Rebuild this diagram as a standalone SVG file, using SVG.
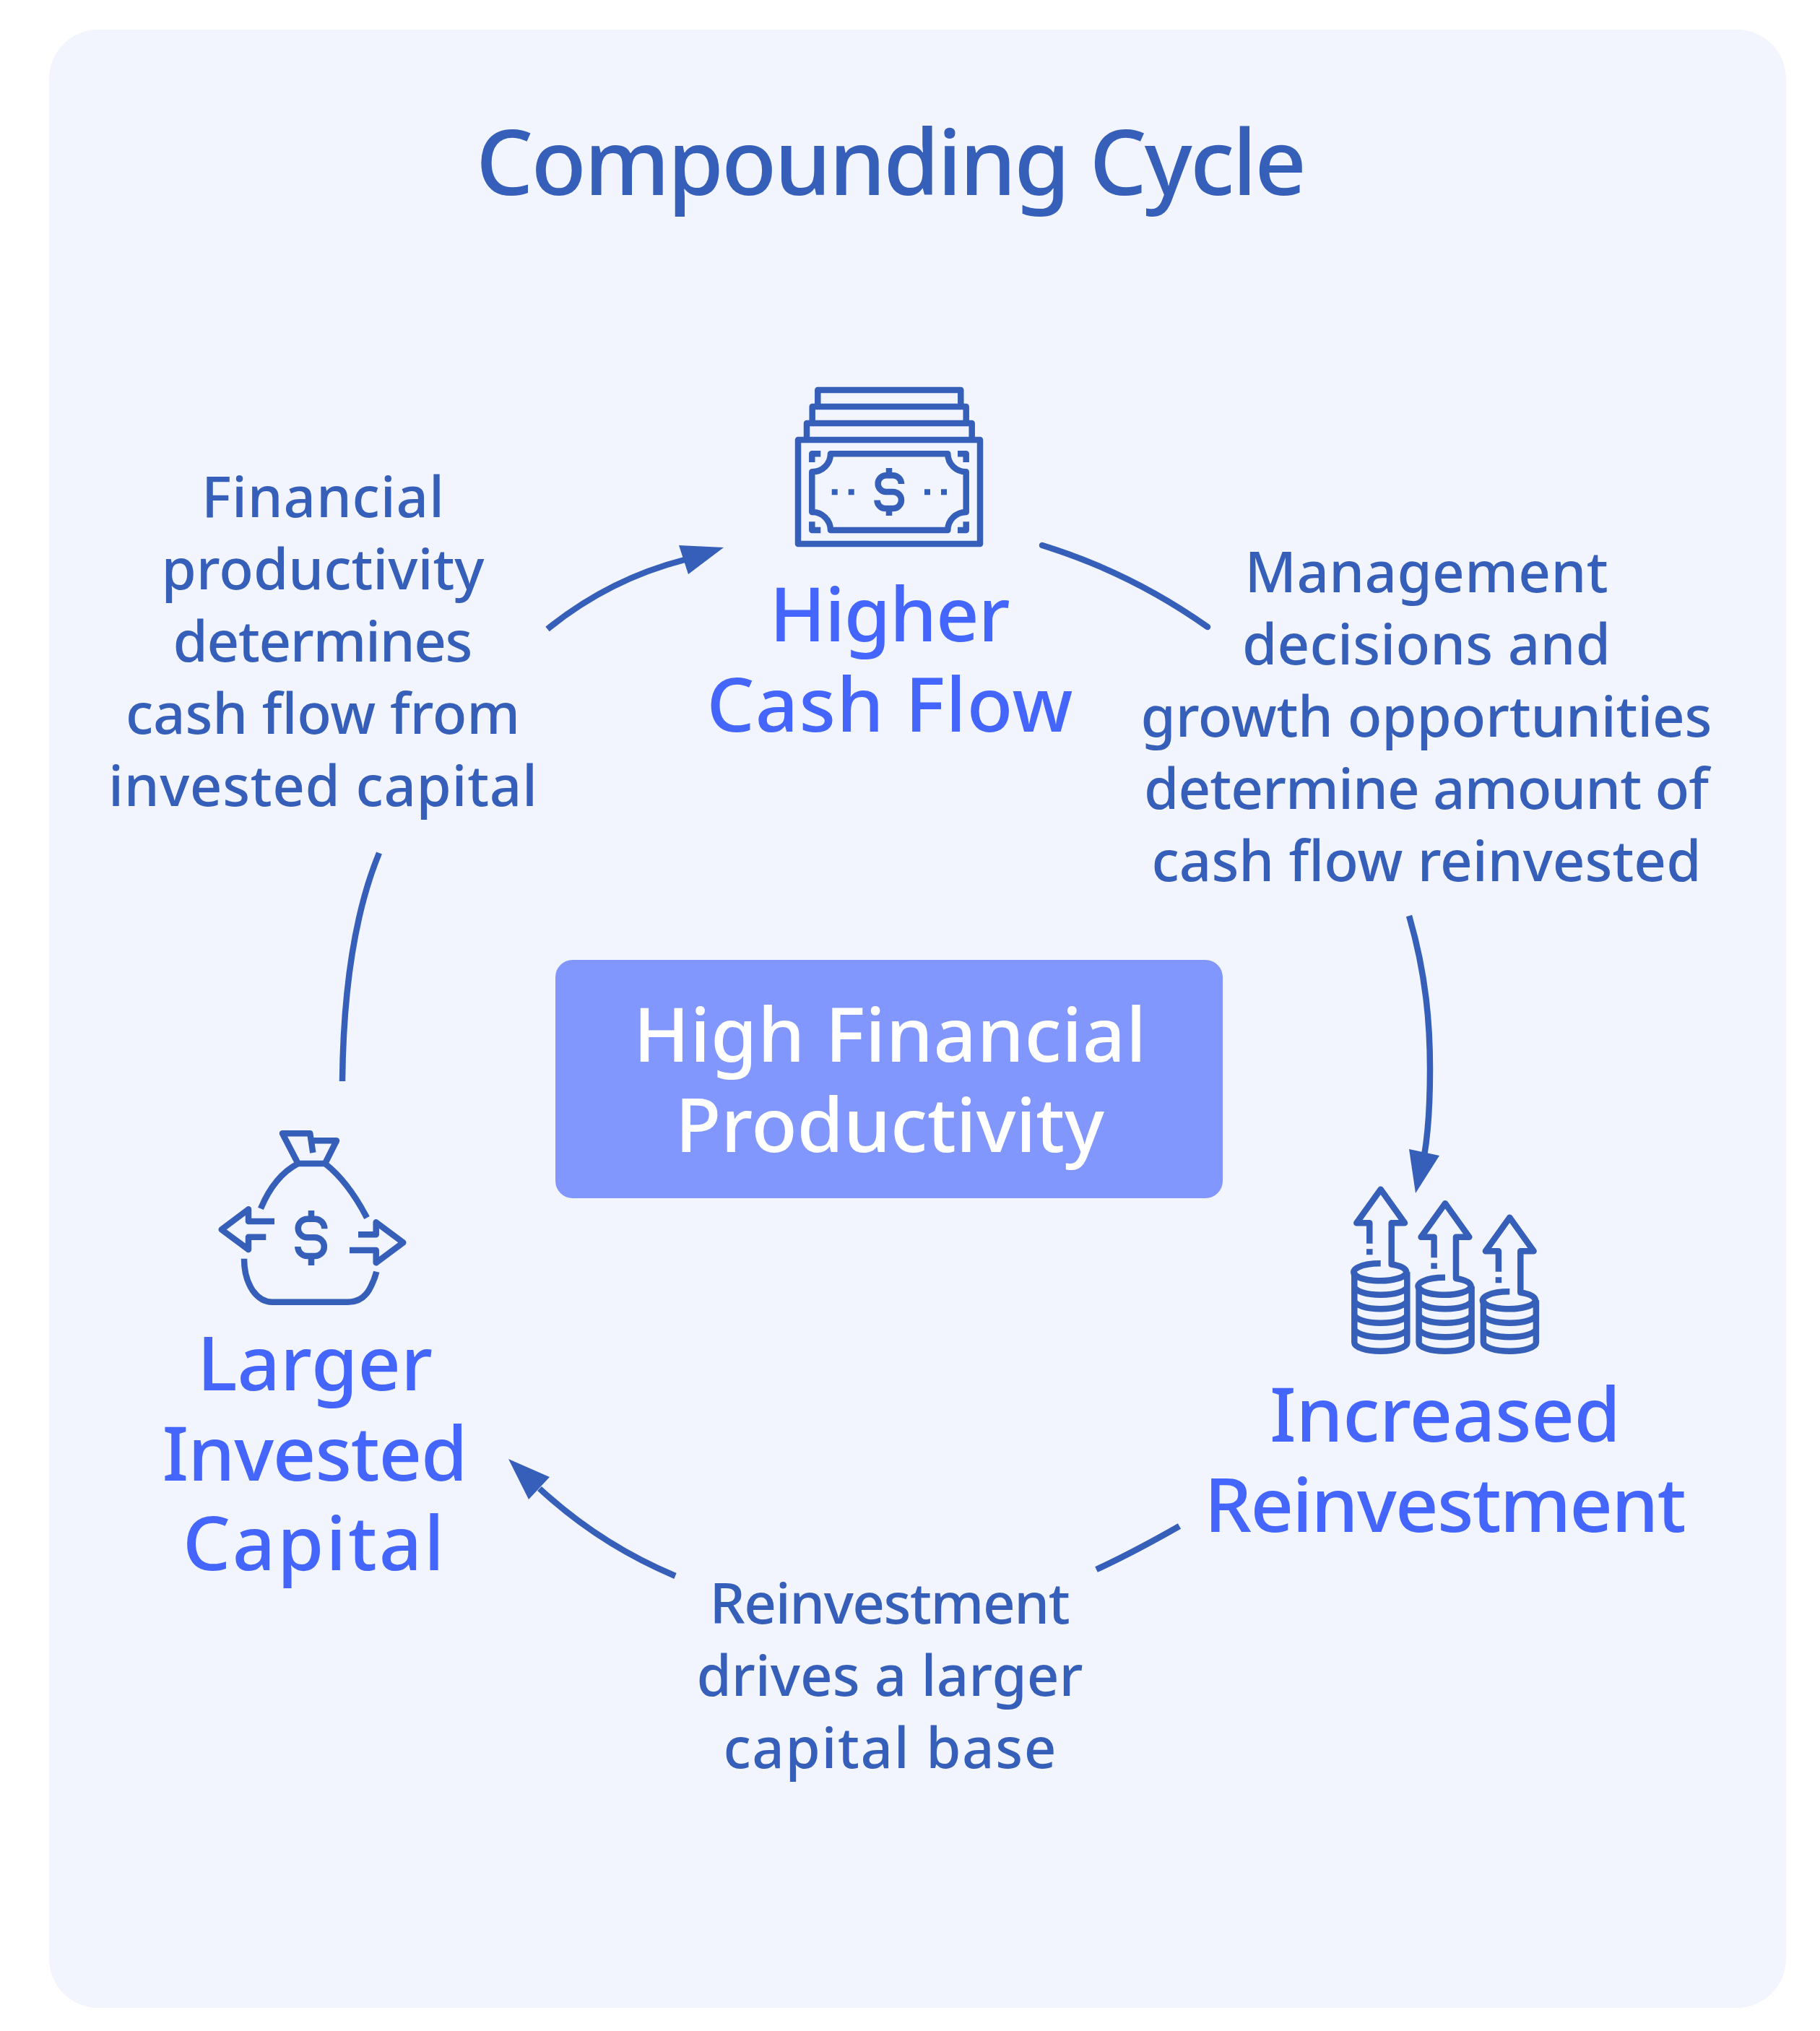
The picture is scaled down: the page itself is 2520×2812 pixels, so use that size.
<svg xmlns="http://www.w3.org/2000/svg" width="2520" height="2812" viewBox="0 0 2520 2812">
<style>
text{font-family:"Noto Sans","Open Sans",sans-serif;text-anchor:middle;font-weight:500;font-variant-ligatures:none}
.t{font-size:125px;fill:#365fba}
.h{font-size:104px;fill:#4466fd}
.d{font-size:78px;fill:#365fba}
.c{font-size:104px;fill:#fff}
.l{fill:none;stroke:#365fba;stroke-width:8.5}
.i{fill:none;stroke:#365fba;stroke-width:8.5;stroke-linejoin:round}
.f{fill:#365fba}
</style>
<rect x="68" y="41" width="2405" height="2739" rx="68" fill="#f2f5fd"/>
<text class="t" x="1234" y="270" textLength="1150">Compounding Cycle</text>
<g id="center"><rect x="769" y="1329" width="924" height="330" rx="24" fill="#8297fd"/><text class="c" x="1232" y="1470" textLength="710">High Financial</text><text class="c" x="1232" y="1594.5" textLength="594">Productivity</text></g>
<g id="cashflow">
<path class="i" d="M1105 609H1357V753H1105ZM1117 609V586H1345.7V609M1124.7 586V563H1337.7V586M1132.3 563V540H1330.3V563"/>
<path class="i" d="M1150 628.3H1312.3A25.3 25 0 0 0 1337.7 653.3V709A25.3 25 0 0 0 1312.3 734H1150A25.3 25 0 0 0 1124.3 709V653.3A25.3 25 0 0 0 1150 628.3Z"/>
<path class="i" d="M1136.3 628.3H1124.3V640M1326 628.3H1337.7V640M1124.3 722.3V734H1136.3M1326 734H1337.7V722.3"/>
<path class="f" d="M1151.7 677.3h8v8h-8zM1174.7 677.3h8v8h-8zM1280 677.3h8v8h-8zM1303 677.3h8v8h-8z"/>
<path class="i" d="M1248 670A11.5 11.5 0 0 0 1236.5 658.3H1226A11.4 11.4 0 0 0 1226 681H1236.5A11.5 11.5 0 0 1 1236.5 704H1226A11.5 11.5 0 0 1 1214.5 692.5M1231 648V658M1231 704V714"/>
<text class="h" x="1232" y="888" textLength="333">Higher</text><text class="h" x="1232" y="1012.5" textLength="507">Cash Flow</text>
</g>
<g id="reinvestment">
<path class="i" d="M1896.3 1721.7V1693.3H1878.3L1911.7 1646.7L1945 1693.3H1926.7V1750.5A36.5 12 0 1 1 1911.7 1749.3M1896.3 1729.3V1737.3"/>
<path class="i" d="M1875.3 1761.3V1858.8A36.5 12 0 0 0 1948.3 1858.8V1761.3M1875.3 1780.8A36.5 12 0 0 0 1948.3 1780.8M1875.3 1800.3A36.5 12 0 0 0 1948.3 1800.3M1875.3 1819.8A36.5 12 0 0 0 1948.3 1819.8M1875.3 1839.3A36.5 12 0 0 0 1948.3 1839.3"/>
<path class="i" d="M1985.6 1741.2V1712.8H1967.6L2001 1666.2L2034.3 1712.8H2016V1770A36.5 12 0 1 1 2001 1768.8M1985.6 1748.8V1756.8"/>
<path class="i" d="M1964.6 1780.8V1858.8A36.5 12 0 0 0 2037.6 1858.8V1780.8M1964.6 1800.3A36.5 12 0 0 0 2037.6 1800.3M1964.6 1819.8A36.5 12 0 0 0 2037.6 1819.8M1964.6 1839.3A36.5 12 0 0 0 2037.6 1839.3"/>
<path class="i" d="M2074.9 1760.7V1732.3H2056.9L2090.3 1685.7L2123.6 1732.3H2105.3V1789.5A36.5 12 0 1 1 2090.3 1788.3M2074.9 1768.3V1776.3"/>
<path class="i" d="M2053.9 1800.3V1858.8A36.5 12 0 0 0 2126.9 1858.8V1800.3M2053.9 1819.8A36.5 12 0 0 0 2126.9 1819.8M2053.9 1839.3A36.5 12 0 0 0 2126.9 1839.3"/>
<text class="h" x="2001" y="1996" textLength="486">Increased</text><text class="h" x="2001" y="2120.5" textLength="667">Reinvestment</text>
</g>
<g id="capital">
<path class="i" d="M433.3 1596L429.3 1569.3H391L412.7 1611H450L466 1579.3H432"/>
<path class="i" d="M412.7 1611Q380 1628 361 1673.3M450 1611Q482 1636 508 1686"/>
<path class="i" d="M380 1691H344V1674.3L306.7 1702.3L344 1730V1712.7H368.3M496 1709.3H520.7V1692.3L558.3 1720.3L520.7 1748.3V1731H484"/>
<path class="i" d="M338 1742.7C338 1760 342 1775 350 1787C358 1798 368 1802.7 376.7 1802.7H481.7C495 1802.7 505 1796 511 1786C516 1777 519 1770 521.3 1760.7"/>
<path class="i" d="M449.3 1701.3A13 13.6 0 0 0 436 1687.7H425.5A12.8 12.8 0 0 0 425.5 1713.3H436A12.8 12.8 0 0 1 436 1739H425.5A13 13 0 0 1 412.3 1726M431 1676V1688M431 1739V1752"/>
<text class="h" x="436" y="1925" textLength="326">Larger</text><text class="h" x="436" y="2049.5" textLength="423">Invested</text><text class="h" x="434" y="2174" textLength="362">Capital</text>
</g>
<g id="label-left">
<text class="d" x="447" y="716" textLength="336">Financial</text><text class="d" x="447" y="816" textLength="447">productivity</text><text class="d" x="447" y="916" textLength="415">determines</text><text class="d" x="447" y="1016" textLength="546">cash flow from</text><text class="d" x="447" y="1116" textLength="594">invested capital</text>
</g>
<g id="label-right">
<text class="d" x="1975" y="820" textLength="503">Management</text><text class="d" x="1975" y="920" textLength="510">decisions and</text><text class="d" x="1975" y="1020" textLength="791">growth opportunities</text><text class="d" x="1975" y="1120" textLength="782">determine amount of</text><text class="d" x="1975" y="1220" textLength="761">cash flow reinvested</text>
</g>
<g id="label-bottom">
<text class="d" x="1232" y="2248" textLength="499">Reinvestment</text><text class="d" x="1232" y="2348" textLength="535">drives a larger</text><text class="d" x="1232" y="2448" textLength="461">capital base</text>
</g>
<g id="connectors">
<path class="l" d="M758 871Q843 802 948 775"/><polygon class="f" points="1002,758 940,755 953,795"/>
<path class="l" stroke-linecap="round" d="M1443 755Q1566 793 1672 868"/>
<path class="l" d="M1951 1268C1975 1350 1980 1420 1980 1480C1980 1530 1978 1565 1972 1600"/><polygon class="f" points="1960,1652 1951,1591 1993,1600"/>
<path class="l" d="M1633 2113Q1568 2150 1518 2173"/>
<path class="l" d="M935 2182Q830 2138 747 2061"/><polygon class="f" points="704,2020 761,2045 732,2076"/>
<path class="l" d="M525 1181Q476 1300 474 1497"/>
</g>
</svg>
